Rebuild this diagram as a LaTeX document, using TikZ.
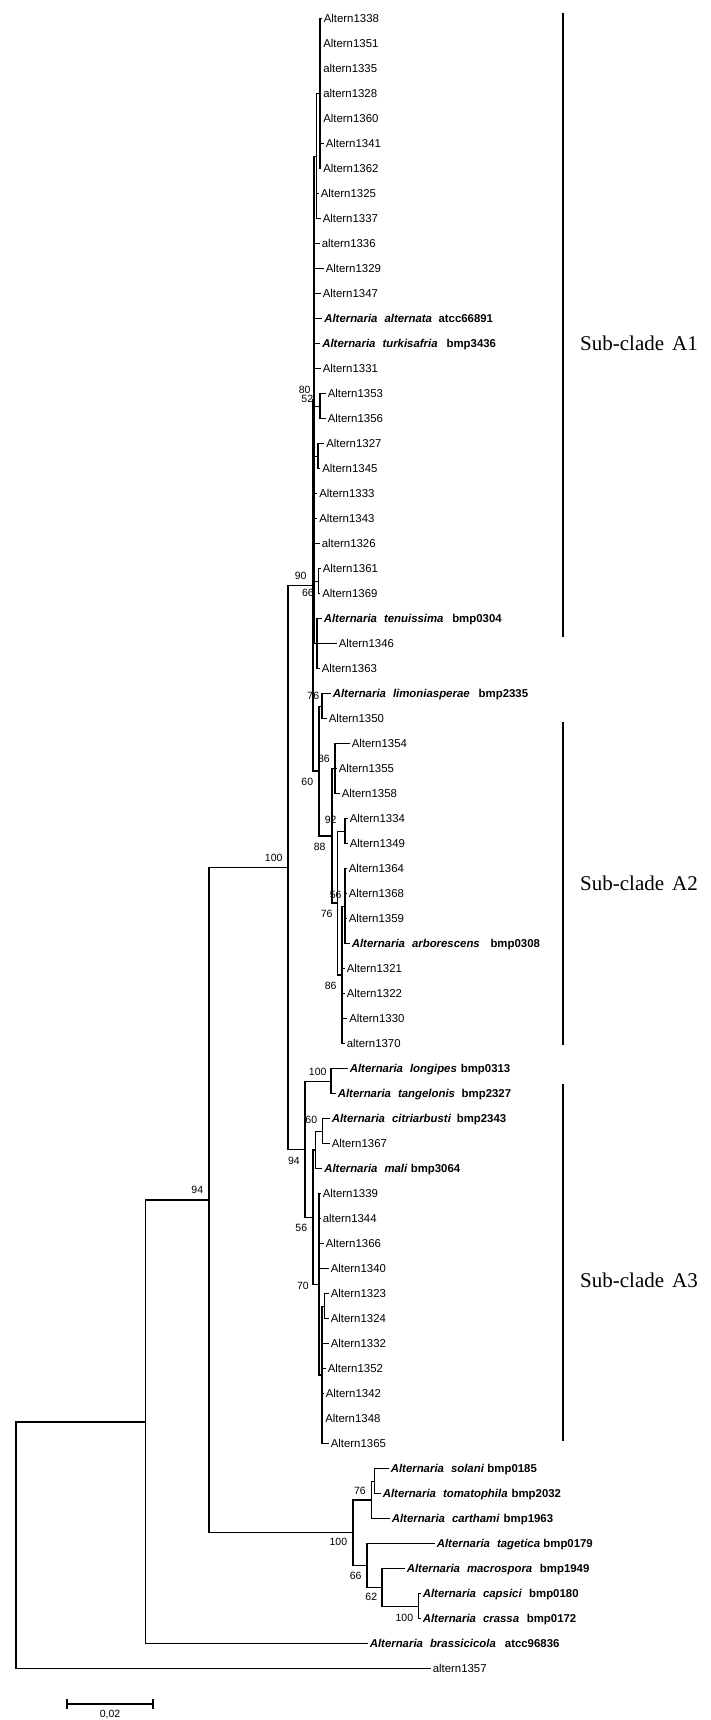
\documentclass[tikz,border=0pt]{standalone}
\usepackage{fontspec}
\setmainfont{Liberation Serif}
\setsansfont{Liberation Sans}
\usetikzlibrary{positioning}

% one tip of the tree: number, end of its branch, label
\newcommand{\addtip}[3]{%
  \coordinate (l#1) at (#2,{18.7+25*(#1-1)});
  \node[tiplab, right=2.6pt of l#1] (t#1) {#3};}
% species label: species, gap, accession
\newcommand{\taxon}[3]{\textbf{\textit{Alternaria}\hspace{7pt}\textit{#1}\hspace{#2}#3}}

\begin{document}
\begin{tikzpicture}[x=1pt,y=-1pt,
  branch/.style={line width=1.3pt, line cap=rect},
  tiplab/.style={inner sep=0pt, text height=8pt, text depth=0pt,
    font=\sffamily\fontsize{11.4}{13}\selectfont},
  bslab/.style={anchor=east, inner sep=0pt, font=\sffamily\fontsize{10.5}{12}\selectfont},
  cladebar/.style={line width=1.3pt},
  cladelab/.style={anchor=west, inner sep=0pt, font=\fontsize{21}{24}\selectfont}]
\useasboundingbox (0,0) rectangle (710,1720);

% tips
\addtip{1}{321}{Altern1338}
\addtip{2}{320.5}{Altern1351}
\addtip{3}{320.5}{altern1335}
\addtip{4}{320.5}{altern1328}
\addtip{5}{320.5}{Altern1360}
\addtip{6}{323}{Altern1341}
\addtip{7}{320.5}{Altern1362}
\addtip{8}{318}{Altern1325}
\addtip{9}{320}{Altern1337}
\addtip{10}{319}{altern1336}
\addtip{11}{323}{Altern1329}
\addtip{12}{320}{Altern1347}
\addtip{13}{321.5}{\taxon{alternata}{6.5pt}{atcc66891}}
\addtip{14}{319.5}{\taxon{turkisafria}{9pt}{bmp3436}}
\addtip{15}{320}{Altern1331}
\addtip{16}{325}{Altern1353}
\addtip{17}{325}{Altern1356}
\addtip{18}{323.5}{Altern1327}
\addtip{19}{319.5}{Altern1345}
\addtip{20}{316.5}{Altern1333}
\addtip{21}{316.5}{Altern1343}
\addtip{22}{319}{altern1326}
\addtip{23}{320}{Altern1361}
\addtip{24}{319.5}{Altern1369}
\addtip{25}{321}{\taxon{tenuissima}{8.7pt}{bmp0304}}
\addtip{26}{336}{Altern1346}
\addtip{27}{319}{Altern1363}
\addtip{28}{330}{\taxon{limoniasperae}{9pt}{bmp2335}}
\addtip{29}{326}{Altern1350}
\addtip{30}{349}{Altern1354}
\addtip{31}{336}{Altern1355}
\addtip{32}{339}{Altern1358}
\addtip{33}{347}{Altern1334}
\addtip{34}{347}{Altern1349}
\addtip{35}{346}{Altern1364}
\addtip{36}{346}{Altern1368}
\addtip{37}{346}{Altern1359}
\addtip{38}{349}{\taxon{arborescens}{10.7pt}{bmp0308}}
\addtip{39}{344}{Altern1321}
\addtip{40}{344}{Altern1322}
\addtip{41}{346.5}{Altern1330}
\addtip{42}{344}{altern1370}
\addtip{43}{347}{\taxon{longipes}{4pt}{bmp0313}}
\addtip{44}{335}{\taxon{tangelonis}{6.7pt}{bmp2327}}
\addtip{45}{329}{\taxon{citriarbusti}{5.7pt}{bmp2343}}
\addtip{46}{329}{Altern1367}
\addtip{47}{321.5}{\taxon{mali}{3.3pt}{bmp3064}}
\addtip{48}{320}{Altern1339}
\addtip{49}{320}{altern1344}
\addtip{50}{323}{Altern1366}
\addtip{51}{328}{Altern1340}
\addtip{52}{328}{Altern1323}
\addtip{53}{328}{Altern1324}
\addtip{54}{328}{Altern1332}
\addtip{55}{325}{Altern1352}
\addtip{56}{323}{Altern1342}
\addtip{57}{322.5}{Altern1348}
\addtip{58}{328}{Altern1365}
\addtip{59}{388}{\taxon{solani}{3.3pt}{bmp0185}}
\addtip{60}{380}{\taxon{tomatophila}{4pt}{bmp2032}}
\addtip{61}{389}{\taxon{carthami}{4pt}{bmp1963}}
\addtip{62}{434}{\taxon{tagetica}{3.3pt}{bmp0179}}
\addtip{63}{404}{\taxon{macrospora}{7.7pt}{bmp1949}}
\addtip{64}{420}{\taxon{capsici}{7.3pt}{bmp0180}}
\addtip{65}{420}{\taxon{crassa}{7.7pt}{bmp0172}}
\addtip{66}{367}{\taxon{brassicicola}{9pt}{atcc96836}}
\addtip{67}{430}{altern1357}

% inner nodes
\coordinate (aa) at (320,93.7);
\coordinate (ab) at (316.5,156.2);
\coordinate (dd) at (320,406.2);
\coordinate (ee) at (318,456.2);
\coordinate (uu) at (318.5,581.2);
\coordinate (tt) at (317,643.7);
\coordinate (c1) at (314,400);
\coordinate (ll) at (322,706.2);
\coordinate (p86) at (335,768.7);
\coordinate (ww) at (345,831.2);
\coordinate (kk) at (345,906.2);
\coordinate (yy) at (342,975);
\coordinate (zz) at (337.5,903.1);
\coordinate (a2) at (332,835.9);
\coordinate (mm) at (319,771.1);
\coordinate (n4) at (313,585.5);
\coordinate (lg) at (331,1081.2);
\coordinate (ci) at (322.5,1131.2);
\coordinate (ff) at (315.7,1150);
\coordinate (hh) at (324.5,1306.2);
\coordinate (jj) at (322,1375);
\coordinate (gg) at (319,1284.4);
\coordinate (a3) at (313,1217.2);
\coordinate (nb) at (305,1149.2);
\coordinate (n3) at (288,867.4);
\coordinate (o3) at (374.5,1481.2);
\coordinate (o2) at (371.7,1500);
\coordinate (o6) at (418.3,1606.2);
\coordinate (o5) at (382,1587.5);
\coordinate (o4) at (367,1565.6);
\coordinate (o1) at (353,1532.8);
\coordinate (n2) at (209,1200.1);
\coordinate (n1) at (145.5,1421.9);
\coordinate (root) at (16,1545.3);

% branches
\foreach \c in {1,...,7} \draw[branch] (aa) |- (l\c);
\foreach \c in {aa,l8,l9} \draw[branch] (ab) |- (\c);
\foreach \c in {16,17} \draw[branch] (dd) |- (l\c);
\foreach \c in {18,19} \draw[branch] (ee) |- (l\c);
\foreach \c in {23,24} \draw[branch] (uu) |- (l\c);
\foreach \c in {25,26,27} \draw[branch] (tt) |- (l\c);
\foreach \c in {ab,l10,l11,l12,l13,l14,l15,dd,ee,l20,l21,l22,uu,tt} \draw[branch] (c1) |- (\c);
\foreach \c in {28,29} \draw[branch] (ll) |- (l\c);
\foreach \c in {30,31,32} \draw[branch] (p86) |- (l\c);
\foreach \c in {33,34} \draw[branch] (ww) |- (l\c);
\foreach \c in {35,...,38} \draw[branch] (kk) |- (l\c);
\foreach \c in {kk,l39,l40,l41,l42} \draw[branch] (yy) |- (\c);
\foreach \c in {ww,yy} \draw[branch] (zz) |- (\c);
\foreach \c in {p86,zz} \draw[branch] (a2) |- (\c);
\foreach \c in {ll,a2} \draw[branch] (mm) |- (\c);
\foreach \c in {c1,mm} \draw[branch] (n4) |- (\c);
\foreach \c in {43,44} \draw[branch] (lg) |- (l\c);
\foreach \c in {45,46} \draw[branch] (ci) |- (l\c);
\foreach \c in {ci,l47} \draw[branch] (ff) |- (\c);
\foreach \c in {52,53} \draw[branch] (hh) |- (l\c);
\foreach \c in {hh,l54,l55,l56,l57,l58} \draw[branch] (jj) |- (\c);
\foreach \c in {l48,l49,l50,l51,jj} \draw[branch] (gg) |- (\c);
\foreach \c in {ff,gg} \draw[branch] (a3) |- (\c);
\foreach \c in {lg,a3} \draw[branch] (nb) |- (\c);
\foreach \c in {n4,nb} \draw[branch] (n3) |- (\c);
\foreach \c in {59,60} \draw[branch] (o3) |- (l\c);
\foreach \c in {o3,l61} \draw[branch] (o2) |- (\c);
\foreach \c in {64,65} \draw[branch] (o6) |- (l\c);
\foreach \c in {l63,o6} \draw[branch] (o5) |- (\c);
\foreach \c in {l62,o5} \draw[branch] (o4) |- (\c);
\foreach \c in {o2,o4} \draw[branch] (o1) |- (\c);
\foreach \c in {n3,o1} \draw[branch] (n2) |- (\c);
\foreach \c in {n2,l66} \draw[branch] (n1) |- (\c);
\foreach \c in {n1,l67} \draw[branch] (root) |- (\c);

% bootstrap values
\node[bslab] (b80) at (310.7,390) {80};
\node[bslab] (b52) at (313.3,399.3) {52};
\node[bslab] (b90) at (306.7,575.5) {90};
\node[bslab] (b66) at (314,592.5) {66};
\node[bslab] (b100a) at (282.7,858) {100};
\node[bslab] (b76a) at (319.3,696) {76};
\node[bslab] (b86a) at (330,758.7) {86};
\node[bslab] (b60a) at (313.3,781.7) {60};
\node[bslab] (b92) at (336.7,820) {92};
\node[bslab] (b88) at (325.7,846.5) {88};
\node[bslab] (b56a) at (341.7,895.3) {56};
\node[bslab] (b76b) at (332.7,913.7) {76};
\node[bslab] (b86b) at (336.7,986.2) {86};
\node[bslab] (b100b) at (326.7,1072) {100};
\node[bslab] (b60b) at (317.3,1120.3) {60};
\node[bslab] (b94a) at (300,1160.5) {94};
\node[bslab] (b56b) at (307.3,1228) {56};
\node[bslab] (b70) at (309,1286) {70};
\node[bslab] (b94b) at (203.3,1190) {94};
\node[bslab] (b76c) at (366,1490.5) {76};
\node[bslab] (b100c) at (347.3,1541.7) {100};
\node[bslab] (b66b) at (361.7,1575.5) {66};
\node[bslab] (b62) at (377.3,1597) {62};
\node[bslab] (b100d) at (413.3,1617.7) {100};

% sub-clades
\coordinate (a1top) at (563,13);
\coordinate (a1bot) at (563,637);
\coordinate (a2top) at (563,722);
\coordinate (a2bot) at (563,1045);
\coordinate (a3top) at (563,1084);
\coordinate (a3bot) at (563,1441);
\draw[cladebar] (a1top) -- (a1bot);
\draw[cladebar] (a2top) -- (a2bot);
\draw[cladebar] (a3top) -- (a3bot);
\node[cladelab] (a1lab) at (580,343) {Sub-clade\hspace{8pt}A1};
\node[cladelab] (a2lab) at (580,883) {Sub-clade\hspace{8pt}A2};
\node[cladelab] (a3lab) at (580,1280) {Sub-clade\hspace{8pt}A3};

% scale
\coordinate (sb1) at (67,1704);
\coordinate (sb2) at (153,1704);
\draw[branch] (sb1) -- (sb2);
\draw[branch] ([yshift=4pt]sb1) -- ([yshift=-4pt]sb1);
\draw[branch] ([yshift=4pt]sb2) -- ([yshift=-4pt]sb2);
\node[bslab, anchor=center] (sblab) at (110,1714) {0,02};
\end{tikzpicture}
\end{document}
